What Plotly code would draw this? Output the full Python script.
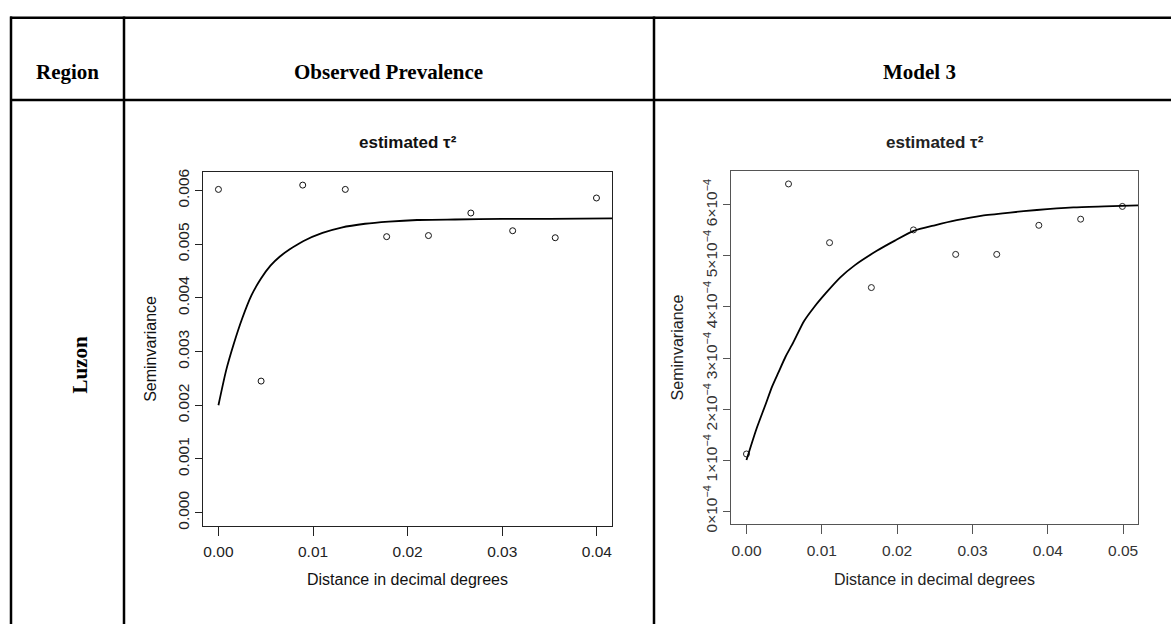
import plotly.graph_objects as go

W, H = 1171, 632

# ---------------- data ----------------
obs_lag = [0.0, 0.00451, 0.00891, 0.01341, 0.01778, 0.0222, 0.02668, 0.0311, 0.0356, 0.03996]
obs_semivar = [0.00602, 0.00245, 0.00610, 0.00602, 0.00514, 0.00516, 0.00558, 0.00525, 0.00512, 0.00586]
obs_fit_lag = [0.0, 0.0008, 0.0016, 0.0025, 0.0035, 0.0045, 0.0055, 0.0065, 0.0075, 0.009,
               0.011, 0.013, 0.0155, 0.018, 0.021, 0.025, 0.03, 0.035, 0.0416]
obs_fit_semivar = [0.00200, 0.00264, 0.00313, 0.00361, 0.00405, 0.00436, 0.00460, 0.00477, 0.00490, 0.00506,
                   0.00521, 0.00531, 0.00538, 0.00542, 0.00545, 0.00546, 0.00547, 0.00547, 0.00548]

m3_lag = [0.0, 0.00558, 0.01103, 0.01658, 0.02217, 0.02777, 0.03322, 0.03881, 0.04436, 0.0499]
m3_semivar = [1.12e-4, 6.41e-4, 5.26e-4, 4.38e-4, 5.51e-4, 5.03e-4, 5.03e-4, 5.60e-4, 5.72e-4, 5.97e-4]
m3_fit_lag = [0.0, 0.0013, 0.00256, 0.0034, 0.00425, 0.0052, 0.0062, 0.00763, 0.009, 0.01053,
              0.01246, 0.0144, 0.0173, 0.0197, 0.0222, 0.025, 0.0279, 0.0313, 0.035, 0.03855,
              0.0434, 0.0475, 0.052]
m3_fit_semivar = [1.00e-4, 1.60e-4, 2.10e-4, 2.44e-4, 2.72e-4, 3.03e-4, 3.30e-4, 3.72e-4, 4.00e-4, 4.27e-4,
                  4.58e-4, 4.82e-4, 5.10e-4, 5.30e-4, 5.49e-4, 5.60e-4, 5.70e-4, 5.79e-4, 5.85e-4, 5.90e-4,
                  5.95e-4, 5.97e-4, 5.99e-4]

obs_xticks = [0.0, 0.01, 0.02, 0.03, 0.04]
obs_xticklabels = ["0.00", "0.01", "0.02", "0.03", "0.04"]
obs_yticks = [0.0, 0.001, 0.002, 0.003, 0.004, 0.005, 0.006]
obs_yticklabels = ["0.000", "0.001", "0.002", "0.003", "0.004", "0.005", "0.006"]
m3_xticks = [0.0, 0.01, 0.02, 0.03, 0.04, 0.05]
m3_xticklabels = ["0.00", "0.01", "0.02", "0.03", "0.04", "0.05"]
m3_yticks = [0.0, 1e-4, 2e-4, 3e-4, 4e-4, 5e-4, 6e-4]
m3_yticklabels = ["0×10<sup>−4</sup>", "1×10<sup>−4</sup>", "2×10<sup>−4</sup>", "3×10<sup>−4</sup>",
                  "4×10<sup>−4</sup>", "5×10<sup>−4</sup>", "6×10<sup>−4</sup>"]

header_labels = ["Region", "Observed Prevalence", "Model 3"]
row_label = "Luzon"
plot_title = "estimated τ²"
x_title = "Distance in decimal degrees"
y_title = "Seminvariance"

# ---------------- helpers ----------------
def px(x):
    return x / W

def py(y):
    return 1 - y / H

SANS = "Liberation Sans, Arial, sans-serif"
SERIF = "Liberation Serif, Times New Roman, serif"

fig = go.Figure()

fig.add_trace(go.Scatter(x=obs_lag, y=obs_semivar, mode="markers",
                         marker=dict(symbol="circle-open", size=6, color="#111", line=dict(width=1, color="#111")),
                         xaxis="x", yaxis="y", showlegend=False))
fig.add_trace(go.Scatter(x=obs_fit_lag, y=obs_fit_semivar, mode="lines",
                         line=dict(color="#000", width=1.8, shape="spline", smoothing=0.6),
                         xaxis="x", yaxis="y", showlegend=False))
fig.add_trace(go.Scatter(x=m3_lag, y=m3_semivar, mode="markers",
                         marker=dict(symbol="circle-open", size=6, color="#222", line=dict(width=1, color="#222")),
                         xaxis="x2", yaxis="y2", showlegend=False))
fig.add_trace(go.Scatter(x=m3_fit_lag, y=m3_fit_semivar, mode="lines",
                         line=dict(color="#000", width=1.8, shape="spline", smoothing=0.6),
                         xaxis="x2", yaxis="y2", showlegend=False))

axis_common = dict(showgrid=False, zeroline=False, showline=True, mirror=True,
                   ticks="outside", tickwidth=1, tickmode="array")

fig.update_layout(
    width=W, height=H,
    margin=dict(l=0, r=0, t=0, b=0),
    paper_bgcolor="white", plot_bgcolor="white",
    xaxis=dict(domain=[px(203.3), px(612)], range=[-0.0016, 0.0416],
               tickvals=obs_xticks, ticktext=obs_xticklabels, ticklen=9, ticklabelstandoff=3,
               linecolor="#222", tickcolor="#222",
               tickfont=dict(family=SANS, size=15.5, color="#222"), anchor="y", **axis_common),
    yaxis=dict(domain=[py(532), py(172)], range=[-0.000244, 0.006344],
               tickvals=obs_yticks, ticktext=obs_yticklabels, ticklen=7, tickangle=-90,
               linecolor="#222", tickcolor="#222",
               tickfont=dict(family=SANS, size=15.5, color="#222"), anchor="x", **axis_common),
    xaxis2=dict(domain=[px(731.4), px(1138.2)], range=[-0.002, 0.052],
                tickvals=m3_xticks, ticktext=m3_xticklabels, ticklen=9, ticklabelstandoff=3,
                linecolor="#555", tickcolor="#555",
                tickfont=dict(family=SANS, size=15.5, color="#333"), anchor="y2", **axis_common),
    yaxis2=dict(domain=[py(530.5), py(170.5)], range=[-0.0000257, 0.0006673],
                tickvals=m3_yticks, ticktext=m3_yticklabels, ticklen=7, tickangle=-90,
                linecolor="#555", tickcolor="#555",
                tickfont=dict(family=SANS, size=15.5, color="#333"), anchor="x2", **axis_common),
)

# table lines
line_style = dict(color="black", width=2.5)
shapes = []
for yy in (15, 98.7):
    shapes.append(dict(type="line", xref="paper", yref="paper", x0=px(10), x1=1.0, y0=py(yy), y1=py(yy), line=line_style))
for xx in (11, 124, 654):
    shapes.append(dict(type="line", xref="paper", yref="paper", x0=px(xx), x1=px(xx), y0=py(13.8), y1=0.0, line=line_style))
fig.update_layout(shapes=shapes)

ann = []
for label, cx in zip(header_labels, (67, 389, 919)):
    ann.append(dict(text=f"<b>{label}</b>", x=px(cx), y=py(70), xref="paper", yref="paper",
                    showarrow=False, xanchor="center", yanchor="middle",
                    font=dict(family=SERIF, size=21, color="black")))
ann.append(dict(text=f"<b>{row_label}</b>", x=px(80), y=py(368), xref="paper", yref="paper",
                showarrow=False, xanchor="center", yanchor="middle", textangle=-90,
                font=dict(family=SERIF, size=21, color="black")))
for cx, col in ((407.7, "#111"), (934.8, "#222")):
    ann.append(dict(text=f"<b>{plot_title}</b>", x=px(cx), y=py(141.7), xref="paper", yref="paper",
                    showarrow=False, xanchor="center", yanchor="middle",
                    font=dict(family=SANS, size=17, color=col)))
    ann.append(dict(text=x_title, x=px(cx), y=py(587), xref="paper", yref="paper",
                    showarrow=False, xanchor="center", yanchor="middle",
                    font=dict(family=SANS, size=16, color=col)))
ann.append(dict(text=y_title, x=px(151), y=py(352), xref="paper", yref="paper",
                showarrow=False, xanchor="center", yanchor="middle", textangle=-90,
                font=dict(family=SANS, size=16, color="#111")))
ann.append(dict(text=y_title, x=px(677), y=py(350.5), xref="paper", yref="paper",
                showarrow=False, xanchor="center", yanchor="middle", textangle=-90,
                font=dict(family=SANS, size=16, color="#222")))
fig.update_layout(annotations=ann)

fig.write_html("out.html", config={"displayModeBar": False},
               post_script="document.body.style.margin='0';document.body.style.overflow='hidden';")
